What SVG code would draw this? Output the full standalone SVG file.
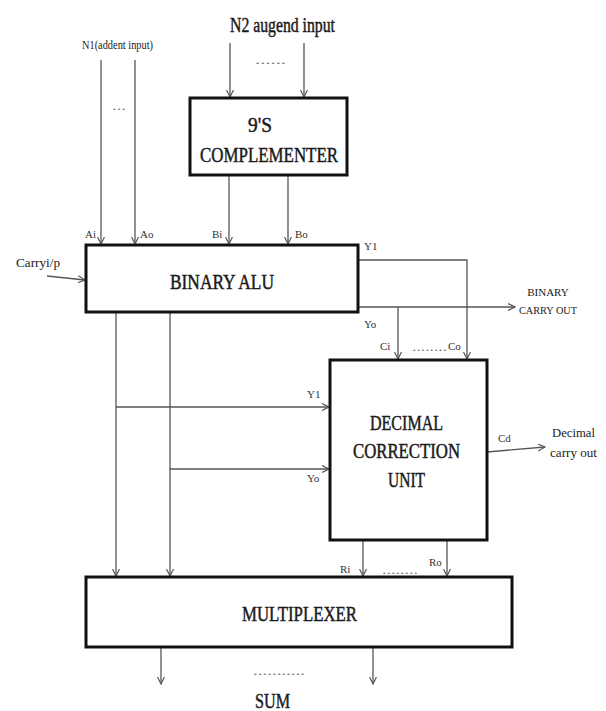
<svg xmlns="http://www.w3.org/2000/svg" width="606" height="711" viewBox="0 0 606 711">
<style>
.box{fill:#fff;stroke:#111;stroke-width:3}
.ln{fill:none;stroke:#555;stroke-width:1.3}
.t{font-family:"Liberation Serif","Times New Roman",serif;fill:#1a1a1a}
.big{font-size:20px;stroke:#1a1a1a;stroke-width:0.45}
.sm{font-size:11px;fill:#333}
.dot{font-family:"Liberation Serif",serif;font-size:12px;fill:#777}
</style>
<defs>
<marker id="ah" markerWidth="8" markerHeight="8" refX="7" refY="4" orient="auto" markerUnits="userSpaceOnUse">
<path d="M0,0.5 L7,4 L0,7.5" fill="none" stroke="#555" stroke-width="1.2"/>
</marker>
</defs>
<rect width="606" height="711" fill="#fff"/>

<g id="connectors">
<line class="ln" x1="230" y1="43" x2="230" y2="97" marker-end="url(#ah)"/>
<line class="ln" x1="304" y1="43" x2="304" y2="97" marker-end="url(#ah)"/>
<line class="ln" x1="101" y1="60" x2="101" y2="244" marker-end="url(#ah)"/>
<line class="ln" x1="135" y1="60" x2="135" y2="244" marker-end="url(#ah)"/>
<line class="ln" x1="229" y1="175" x2="229" y2="244" marker-end="url(#ah)"/>
<line class="ln" x1="288" y1="175" x2="288" y2="244" marker-end="url(#ah)"/>
<line class="ln" x1="47" y1="276" x2="85" y2="280" marker-end="url(#ah)"/>
<polyline class="ln" points="358,260 467,260 467,359" marker-end="url(#ah)"/>
<line class="ln" x1="358" y1="307" x2="515" y2="307" marker-end="url(#ah)"/>
<line class="ln" x1="398" y1="307" x2="398" y2="359" marker-end="url(#ah)"/>
<line class="ln" x1="116" y1="312" x2="116" y2="576" marker-end="url(#ah)"/>
<line class="ln" x1="170" y1="312" x2="170" y2="576" marker-end="url(#ah)"/>
<line class="ln" x1="116" y1="407" x2="329" y2="407" marker-end="url(#ah)"/>
<line class="ln" x1="170" y1="469" x2="329" y2="469" marker-end="url(#ah)"/>
<line class="ln" x1="487" y1="452" x2="545" y2="447" marker-end="url(#ah)"/>
<line class="ln" x1="363" y1="540" x2="363" y2="576" marker-end="url(#ah)"/>
<line class="ln" x1="447" y1="540" x2="447" y2="576" marker-end="url(#ah)"/>
<line class="ln" x1="161" y1="647" x2="161" y2="684" marker-end="url(#ah)"/>
<line class="ln" x1="373" y1="647" x2="373" y2="684" marker-end="url(#ah)"/>
</g>

<g id="inputs">
<text class="t big" x="230" y="32" textLength="105" lengthAdjust="spacingAndGlyphs">N2 augend input</text>
<text class="dot" x="255" y="64" textLength="31" lengthAdjust="spacingAndGlyphs">......</text>
<text class="t" font-size="12" x="82" y="49" textLength="71" lengthAdjust="spacingAndGlyphs">N1(addent input)</text>
<text class="dot" x="112" y="110" textLength="14" lengthAdjust="spacingAndGlyphs">...</text>
<text class="t sm" x="85" y="238">Ai</text>
<text class="t sm" x="140" y="238">Ao</text>
<text class="t sm" x="212" y="238">Bi</text>
<text class="t sm" x="295" y="238">Bo</text>
<text class="t" font-size="13" x="16" y="267" textLength="44" lengthAdjust="spacingAndGlyphs">Carryi/p</text>
</g>

<g id="complementer">
<rect class="box" x="190" y="98" width="157" height="77"/>
<text class="t big" x="248" y="132" textLength="24" lengthAdjust="spacingAndGlyphs">9'S</text>
<text class="t big" x="200" y="162" textLength="138" lengthAdjust="spacingAndGlyphs">COMPLEMENTER</text>
</g>

<g id="binary-alu">
<rect class="box" x="86" y="245" width="272" height="67"/>
<text class="t big" x="170" y="289" textLength="104" lengthAdjust="spacingAndGlyphs">BINARY ALU</text>
<text class="t sm" x="364" y="250">Y1</text>
<text class="t sm" x="364" y="328">Yo</text>
</g>

<g id="binary-carry-out">
<text class="t" font-size="11" x="548" y="296" text-anchor="middle">BINARY</text>
<text class="t" font-size="11" x="519" y="314" textLength="58" lengthAdjust="spacingAndGlyphs">CARRY OUT</text>
</g>

<g id="decimal-correction-unit">
<rect class="box" x="330" y="360" width="157" height="180"/>
<text class="t sm" x="380" y="350">Ci</text>
<text class="dot" x="412" y="351" textLength="35" lengthAdjust="spacingAndGlyphs">........</text>
<text class="t sm" x="448" y="350">Co</text>
<text class="t big" x="370" y="430" textLength="73" lengthAdjust="spacingAndGlyphs">DECIMAL</text>
<text class="t big" x="353" y="458" textLength="107" lengthAdjust="spacingAndGlyphs">CORRECTION</text>
<text class="t big" x="388" y="487" textLength="37" lengthAdjust="spacingAndGlyphs">UNIT</text>
<text class="t sm" x="307" y="398">Y1</text>
<text class="t sm" x="307" y="482">Yo</text>
<text class="t sm" x="498" y="442">Cd</text>
</g>

<g id="decimal-carry-out">
<text class="t" font-size="13" x="552" y="437" textLength="43" lengthAdjust="spacingAndGlyphs">Decimal</text>
<text class="t" font-size="13" x="550" y="457" textLength="47" lengthAdjust="spacingAndGlyphs">carry out</text>
</g>

<g id="multiplexer">
<rect class="box" x="86" y="577" width="426" height="70"/>
<text class="t sm" x="340" y="573">Ri</text>
<text class="dot" x="382" y="574" textLength="36" lengthAdjust="spacingAndGlyphs">........</text>
<text class="t sm" x="429" y="566">Ro</text>
<text class="t big" x="242" y="621" textLength="115" lengthAdjust="spacingAndGlyphs">MULTIPLEXER</text>
</g>

<g id="sum">
<text class="dot" x="253" y="675" textLength="52" lengthAdjust="spacingAndGlyphs">...........</text>
<text class="t big" x="255" y="708" textLength="35" lengthAdjust="spacingAndGlyphs">SUM</text>
</g>
</svg>
